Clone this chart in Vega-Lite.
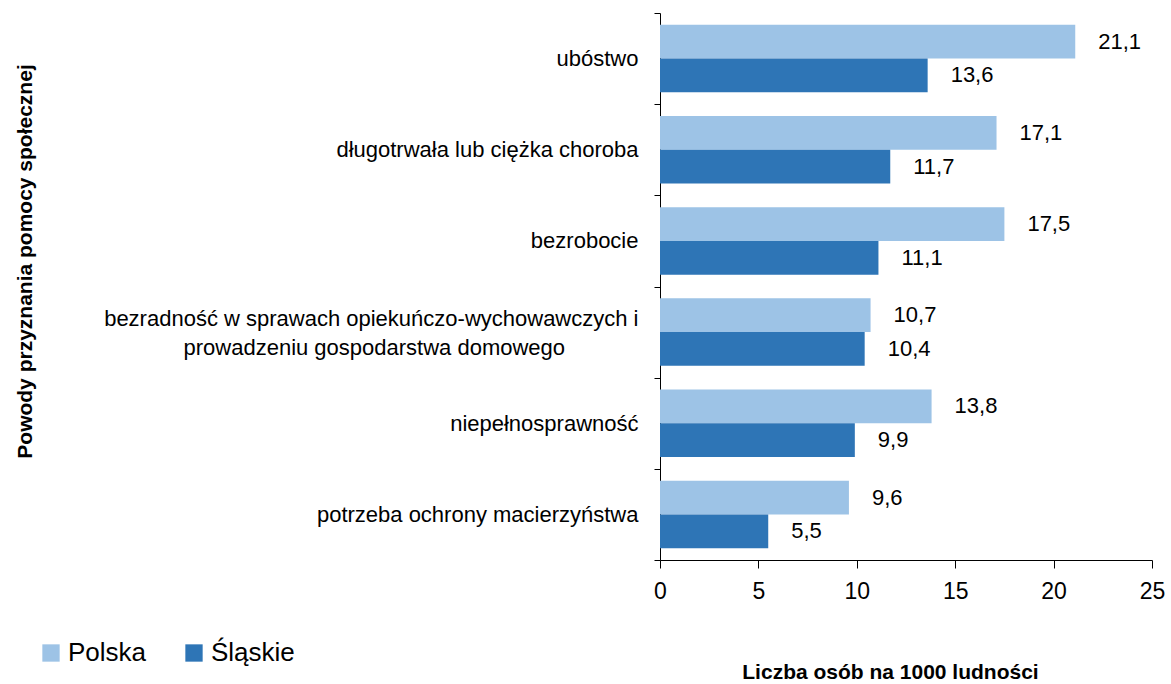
{
  "$schema": "https://vega.github.io/schema/vega-lite/v6.json",
  "width": 492,
  "height": 547,
  "autosize": {"type": "none"},
  "padding": {"left": 660, "top": 13, "right": 19, "bottom": 124},
  "background": "white",
  "config": {
    "locale": {"number": {"decimal": ",", "thousands": " ", "grouping": [3], "currency": ["", " zł"]}},
    "font": "Liberation Sans",
    "view": {"stroke": null}
  },
  "data": {
    "values": [
      {"powod": "ubóstwo", "seria": "Polska", "wartosc": 21.1},
      {"powod": "ubóstwo", "seria": "Śląskie", "wartosc": 13.6},
      {"powod": "długotrwała lub ciężka choroba", "seria": "Polska", "wartosc": 17.1},
      {"powod": "długotrwała lub ciężka choroba", "seria": "Śląskie", "wartosc": 11.7},
      {"powod": "bezrobocie", "seria": "Polska", "wartosc": 17.5},
      {"powod": "bezrobocie", "seria": "Śląskie", "wartosc": 11.1},
      {"powod": "bezradność w sprawach opiekuńczo-wychowawczych i|prowadzeniu gospodarstwa domowego\u2007\u2007\u2007\u2007\u2007\u2007\u200b", "seria": "Polska", "wartosc": 10.7},
      {"powod": "bezradność w sprawach opiekuńczo-wychowawczych i|prowadzeniu gospodarstwa domowego\u2007\u2007\u2007\u2007\u2007\u2007\u200b", "seria": "Śląskie", "wartosc": 10.4},
      {"powod": "niepełnosprawność", "seria": "Polska", "wartosc": 13.8},
      {"powod": "niepełnosprawność", "seria": "Śląskie", "wartosc": 9.9},
      {"powod": "potrzeba ochrony macierzyństwa", "seria": "Polska", "wartosc": 9.6},
      {"powod": "potrzeba ochrony macierzyństwa", "seria": "Śląskie", "wartosc": 5.5}
    ]
  },
  "encoding": {
    "y": {
      "field": "powod",
      "type": "nominal",
      "sort": null,
      "scale": {"paddingInner": 0, "paddingOuter": 0},
      "axis": {
        "title": "Powody przyznania pomocy społecznej",
        "titleFontSize": 21,
        "titleFontWeight": "bold",
        "titleColor": "#000000",
        "titleX": -635,
        "titleY": 248,
        "titleAngle": -90,
        "titleAlign": "center",
        "titleBaseline": "middle",
        "tickBand": "extent",
        "tickSize": 6,
        "tickColor": "#000000",
        "domainColor": "#000000",
        "labelFontSize": 22,
        "labelColor": "#000000",
        "labelLimit": 700,
        "labelPadding": 16,
        "labelLineHeight": 29,
        "labelOffset": {"condition": {"test": "datum.value && indexof(datum.value, '|') >= 0", "value": -14}, "value": 0},
        "labelExpr": "datum.value ? split(datum.value, '|') : ''"
      }
    },
    "yOffset": {
      "field": "seria",
      "type": "nominal",
      "sort": ["Polska", "Śląskie"],
      "scale": {"paddingInner": 0, "paddingOuter": 0.35}
    }
  },
  "layer": [
    {
      "mark": {"type": "bar"},
      "encoding": {
        "x": {
          "field": "wartosc",
          "type": "quantitative",
          "scale": {"domain": [0, 25], "nice": false},
          "axis": {
            "title": "Liczba osób na 1000 ludności",
            "titleFontSize": 21,
            "titleFontWeight": "bold",
            "titleColor": "#000000",
            "titleX": 230,
            "titleY": 112,
            "titleAlign": "center",
            "titleBaseline": "middle",
            "values": [0, 5, 10, 15, 20, 25],
            "format": "d",
            "grid": false,
            "tickSize": 8,
            "tickColor": "#000000",
            "domainColor": "#000000",
            "labelFontSize": 23,
            "labelColor": "#000000",
            "labelPadding": 12,
            "labelFlush": false
          }
        },
        "color": {
          "field": "seria",
          "type": "nominal",
          "sort": ["Polska", "Śląskie"],
          "scale": {"domain": ["Polska", "Śląskie"], "range": ["#9DC3E6", "#2E75B6"]},
          "legend": {
            "title": null,
            "orient": "none",
            "direction": "horizontal",
            "legendX": -622,
            "legendY": 627,
            "symbolType": "square",
            "symbolSize": 300,
            "symbolStrokeWidth": 0,
            "labelFontSize": 26,
            "labelColor": "#000000",
            "labelOffset": 4,
            "columnPadding": 34
          }
        }
      }
    },
    {
      "mark": {"type": "text", "align": "left", "baseline": "middle", "dx": 23, "fontSize": 22, "color": "#000000"},
      "encoding": {
        "x": {"field": "wartosc", "type": "quantitative"},
        "text": {"field": "wartosc", "type": "quantitative", "format": ".1f"}
      }
    }
  ]
}
